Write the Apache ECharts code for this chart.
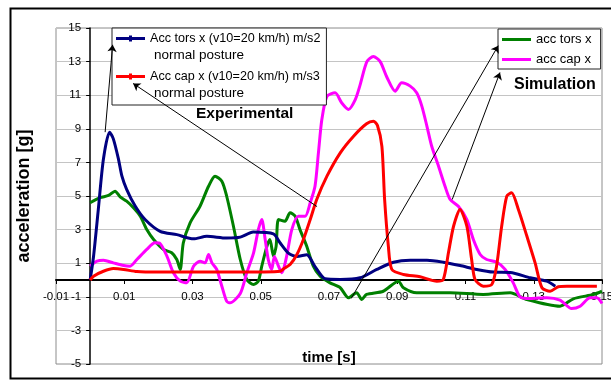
<!DOCTYPE html>
<html>
<head>
<meta charset="utf-8">
<style>
  html, body { margin: 0; padding: 0; background: #fff; }
  #chart { width: 611px; height: 380px; }
</style>
<script src="https://cdn.jsdelivr.net/npm/echarts@6/dist/echarts.min.js"></script>
</head>
<body>
<div id="chart"></div>
<script>
var FONT = '"Liberation Sans", Arial, sans-serif';

// axis ticks
var xTicks = [-0.01, 0.01, 0.03, 0.05, 0.07, 0.09, 0.11, 0.13, 0.15];
var yTicks = [-5, -3, -1, 1, 3, 5, 7, 9, 11, 13, 15];

// series names
var nameTorsExp = 'Acc tors x (v10=20 km/h) m/s2';
var nameCapExp = 'Acc cap x (v10=20 km/h) m/s3';
var nameTorsSim = 'acc tors x';
var nameCapSim = 'acc cap x';

// [time s, acceleration g]
var accTorsExp = [
  [0, 0], [0.001, 1.4], [0.0024, 4.2], [0.0039, 7.2], [0.0057, 8.8], [0.0068, 8.4],
  [0.0083, 7.2], [0.0093, 6.2], [0.0107, 5.4], [0.0132, 4.4], [0.0161, 3.6], [0.0205, 2.9],
  [0.0254, 2.7], [0.0303, 2.45], [0.0342, 2.6], [0.040, 2.5], [0.044, 2.55], [0.0478, 2.85],
  [0.0537, 2.75], [0.0557, 2.2], [0.0581, 1.6], [0.0606, 1.4], [0.0635, 1.5], [0.0659, 0.8],
  [0.0689, 0.07], [0.0733, 0.03], [0.0791, 0.13], [0.084, 0.63], [0.0889, 1.06], [0.0938, 1.18],
  [0.0987, 1.18], [0.1035, 1.06], [0.1084, 0.86], [0.1133, 0.63], [0.1182, 0.47], [0.1231, 0.45],
  [0.129, 0.13], [0.1338, -0.07], [0.1363, -0.37]
];
var accCapExp = [
  [0, 0], [0.001, 0.23], [0.0039, 0.52], [0.0068, 0.68], [0.0098, 0.63], [0.0137, 0.5],
  [0.02, 0.47], [0.03, 0.47], [0.04, 0.47], [0.05, 0.48], [0.0557, 0.52], [0.0567, 0.67],
  [0.0586, 0.92], [0.0606, 1.52], [0.0625, 2.41], [0.0645, 3.6], [0.0664, 4.79], [0.0694, 6.18],
  [0.0733, 7.57], [0.0772, 8.56], [0.081, 9.3], [0.083, 9.45], [0.0842, 9.2], [0.0855, 7.96],
  [0.0863, 4.79], [0.0874, 2.0], [0.0884, 0.63], [0.0918, 0.33], [0.0967, 0.19], [0.1016, -0.07],
  [0.1035, 0.03], [0.105, 1.62], [0.1065, 3.2], [0.1084, 4.2], [0.1104, 3.2], [0.1118, 1.22],
  [0.1128, 0.03], [0.1152, -0.37], [0.1177, -0.27], [0.1191, 0.82], [0.1206, 3.2], [0.1221, 4.99],
  [0.1235, 5.19], [0.1255, 4.2], [0.128, 2.6], [0.1304, 1.02], [0.1324, -0.46], [0.1348, -0.67],
  [0.1372, -0.4], [0.1397, -0.37], [0.1485, -0.37]
];
var accTorsSim = [
  [0, 4.6], [0.0029, 4.9], [0.0054, 5.03], [0.0073, 5.29], [0.0088, 4.95], [0.0107, 4.69],
  [0.0127, 4.3], [0.0147, 3.8], [0.0166, 3.0], [0.0186, 2.41], [0.0215, 1.82], [0.0239, 1.62],
  [0.0254, 1.22], [0.0264, 0.63], [0.0273, 2.2], [0.0293, 3.4], [0.0322, 4.39], [0.0347, 5.58],
  [0.0366, 6.18], [0.0386, 5.88], [0.04, 5.0], [0.042, 3.2], [0.044, 1.22], [0.0459, 0.03],
  [0.0479, -0.27], [0.0493, -0.07], [0.0503, 0.82], [0.0518, 2.0], [0.0527, 2.41], [0.0537, 1.42],
  [0.0545, 2.0], [0.0552, 3.6], [0.0571, 3.5], [0.0586, 4.0], [0.0601, 3.8], [0.0615, 3.0],
  [0.0635, 2.0], [0.0654, 0.82], [0.0674, 0.23], [0.0703, -0.17], [0.0733, -0.46], [0.0757, -1.06],
  [0.0781, -0.76], [0.0796, -1.16], [0.081, -0.86], [0.0859, -0.67], [0.0903, -0.07], [0.0918, -0.46],
  [0.0957, -0.76], [0.1055, -0.76], [0.1152, -0.86], [0.1231, -0.76], [0.128, -1.16], [0.1377, -1.56],
  [0.1416, -1.12], [0.1475, -0.86], [0.15, -0.67]
];
var accCapSim = [
  [0, 0.82], [0.002, 1.12], [0.0039, 1.18], [0.0068, 1.02], [0.0098, 0.86], [0.0117, 0.82],
  [0.0137, 1.22], [0.0166, 1.82], [0.019, 2.21], [0.0205, 2.17], [0.0225, 1.42], [0.0244, 0.43],
  [0.0264, -0.07], [0.0283, -0.17], [0.0303, 0.82], [0.0322, 1.12], [0.0337, 1.02], [0.0347, 1.52],
  [0.0357, 1.02], [0.0371, 0.63], [0.0386, -0.37], [0.04, -1.26], [0.041, -1.36], [0.044, -0.8],
  [0.0459, 0.43], [0.0479, 1.62], [0.0493, 3.0], [0.0503, 3.6], [0.0513, 2.41], [0.0522, 1.22],
  [0.0532, 0.63], [0.054, 1.4], [0.0552, 0.82], [0.0562, 0.43], [0.0576, 1.42], [0.0591, 3.0],
  [0.061, 3.8], [0.063, 3.8], [0.0645, 4.6], [0.0659, 5.58], [0.0669, 7.57], [0.0679, 9.55],
  [0.0694, 10.94], [0.0718, 11.14], [0.0737, 10.55], [0.0757, 10.15], [0.0777, 10.74], [0.0791, 11.6],
  [0.0811, 13.0], [0.083, 13.3], [0.085, 13.0], [0.0869, 12.1], [0.0894, 11.24], [0.0913, 11.74],
  [0.0938, 11.54], [0.0957, 11.14], [0.0972, 10.35], [0.0987, 9.15], [0.1001, 7.96], [0.1021, 6.77],
  [0.104, 5.58], [0.1055, 4.79], [0.1079, 4.39], [0.1104, 3.6], [0.1123, 2.41], [0.1143, 1.52],
  [0.1162, 1.22], [0.1191, 1.07], [0.1216, 0.63], [0.124, -0.17], [0.126, -1.0], [0.1289, -1.1],
  [0.1338, -1.05], [0.1377, -1.2], [0.1411, -1.7], [0.1436, -1.56], [0.1465, -1.06], [0.1485, -1.06],
  [0.15, -1.4]
];

// annotation arrows: [from point on curve, to legend entry]
var arrowTorsExp = [[0.0044, 8.8], [0.0066, 14.0]];
var arrowCapExp = [[0.0665, 4.37], [0.0126, 11.7]];
var arrowTorsSim = [[0.0765, -1.1], [0.1196, 13.95]];
var arrowCapSim = [[0.1061, 4.79], [0.1201, 12.35]];

var chart = echarts.init(document.getElementById('chart'));

function arrow(pts) {
  return {
    silent: true,
    symbol: ['none', 'arrow'],
    symbolSize: 7,
    label: { show: false },
    lineStyle: { color: '#000', width: 1, type: 'solid' },
    emphasis: { disabled: true },
    data: [[{ coord: pts[0] }, { coord: pts[1] }]]
  };
}

function curve(name, data, color, pts) {
  return {
    name: name,
    type: 'line',
    data: data,
    symbol: 'none',
    smooth: 0.25,
    lineStyle: { color: color, width: 3 },
    itemStyle: { color: color },
    markLine: arrow(pts)
  };
}

// legend icon: line sitting on the first text row
var iconExp = 'path://M0,0h0.05v0.05h-0.05Z M28.95,33.95h0.05v0.05h-0.05Z M0,7h29v3h-29Z M13,5.5h3v6h-3Z';

var option = {
  animation: false,
  grid: {
    left: 56, right: 9, top: 28, bottom: 16,
    outerBoundsMode: 'none', containLabel: false,
    show: true, borderColor: '#8c8c8c', borderWidth: 1
  },
  xAxis: {
    type: 'value',
    min: xTicks[0],
    max: xTicks[xTicks.length - 1],
    interval: xTicks[1] - xTicks[0],
    name: 'time [s]',
    nameLocation: 'middle',
    nameGap: 70,
    nameTextStyle: { fontFamily: FONT, fontSize: 15, fontWeight: 'bold', color: '#000' },
    axisLine: { onZero: false, lineStyle: { color: '#000', width: 2 } },
    axisTick: { length: 4, lineStyle: { color: '#000' } },
    axisLabel: {
      fontFamily: FONT, fontSize: 11.5, color: '#000', margin: 11,
      formatter: function (v) { return String(Number(v.toFixed(2))); }
    },
    splitLine: { show: false }
  },
  yAxis: {
    type: 'value',
    min: yTicks[0],
    max: yTicks[yTicks.length - 1],
    interval: yTicks[1] - yTicks[0],
    name: 'acceleration [g]',
    nameLocation: 'middle',
    nameGap: 57,
    nameTextStyle: { fontFamily: FONT, fontSize: 18, fontWeight: 'bold', color: '#000' },
    axisLine: { onZero: false, lineStyle: { color: '#000', width: 1.5 } },
    axisTick: { length: 4, lineStyle: { color: '#000' } },
    axisLabel: { fontFamily: FONT, fontSize: 11.5, color: '#000', margin: 9 },
    splitLine: { lineStyle: { color: '#c4c4c4', width: 1 } }
  },
  legend: [
    {
      data: [nameTorsExp, nameCapExp],
      orient: 'vertical',
      left: 112,
      top: 28,
      padding: [2, 6, 3, 4],
      itemGap: 4,
      itemWidth: 29,
      itemHeight: 34,
      icon: iconExp,
      selectedMode: false,
      itemStyle: { borderWidth: 0 },
      backgroundColor: '#fff',
      borderColor: '#222',
      borderWidth: 1,
      borderRadius: 0,
      formatter: function (n) { return '{a|' + n + '}\n{b|normal posture}'; },
      textStyle: {
        fontFamily: FONT, color: '#000',
        rich: {
          a: { fontFamily: FONT, fontSize: 12.6, lineHeight: 17, color: '#000' },
          b: { fontFamily: FONT, fontSize: 13.5, lineHeight: 17, color: '#000', padding: [0, 0, 0, 4] }
        }
      }
    },
    {
      data: [nameTorsSim, nameCapSim],
      orient: 'vertical',
      left: 498,
      top: 29,
      padding: [4, 9, 3, 4],
      itemGap: 7,
      itemWidth: 29,
      itemHeight: 3,
      icon: 'rect',
      selectedMode: false,
      itemStyle: { borderWidth: 0 },
      backgroundColor: '#fff',
      borderColor: '#222',
      borderWidth: 1,
      borderRadius: 0,
      textStyle: { fontFamily: FONT, fontSize: 13, color: '#000' }
    }
  ],
  graphic: [
    { type: 'rect', left: 8, top: 6, silent: true,
      shape: { width: 620, height: 370 },
      style: { fill: 'none', stroke: '#000', lineWidth: 2 } },
    { type: 'text', left: 196, top: 106, silent: true,
      style: { text: 'Experimental', font: 'bold 15.5px ' + FONT, fill: '#000' } },
    { type: 'text', left: 514, top: 77, silent: true,
      style: { text: 'Simulation', font: 'bold 16px ' + FONT, fill: '#000' } }
  ],
  series: [
    curve(nameTorsSim, accTorsSim, '#008000', arrowTorsSim),
    curve(nameCapSim, accCapSim, '#ff00ff', arrowCapSim),
    curve(nameTorsExp, accTorsExp, '#000080', arrowTorsExp),
    curve(nameCapExp, accCapExp, '#ff0000', arrowCapExp)
  ]
};

chart.setOption(option);

// move both axes (line, ticks, labels, name) onto the origin, like the original
var origin = chart.convertToPixel({ gridIndex: 0 }, [0, 0]);
var corner = chart.convertToPixel({ gridIndex: 0 }, [xTicks[0], yTicks[0]]);
chart.setOption({
  xAxis: { offset: -(corner[1] - origin[1]) },
  yAxis: { offset: -(origin[0] - corner[0]) }
});

window.addEventListener('resize', function () { chart.resize(); });
</script>
</body>
</html>
